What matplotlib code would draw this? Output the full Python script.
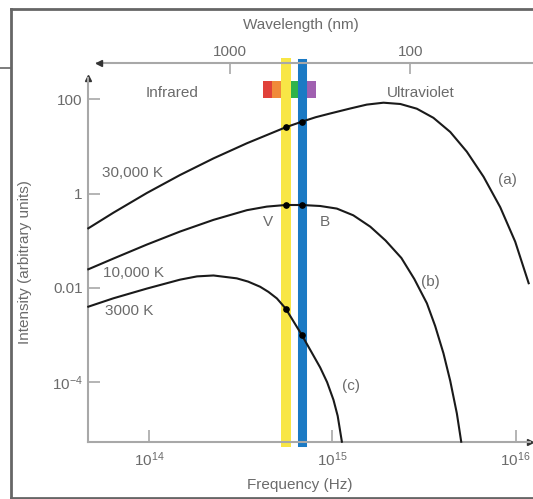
import matplotlib.pyplot as plt
from matplotlib.lines import Line2D
from matplotlib.ticker import NullLocator

plt.rcParams['font.family'] = ['Liberation Sans', 'DejaVu Sans']
plt.rcParams['mathtext.fontset'] = 'custom'
plt.rcParams['mathtext.rm'] = 'Liberation Sans'
plt.rcParams['mathtext.it'] = 'Liberation Sans:italic'

# blackbody curves: frequency (Hz) -> intensity (arbitrary)
freq_a = [4.64e13, 6.36e13, 9.68e13, 1.47e14, 2.24e14, 3.41e14, 5.55e14, 6.8e14,
          8.10e14, 9.71e14, 1.25e15, 1.54e15, 1.90e15, 2.35e15, 2.89e15, 3.56e15,
          4.40e15, 5.42e15, 6.69e15, 8.25e15, 9.96e15, 1.18e16]
int_a = [0.184, 0.394, 1.03, 2.48, 5.59, 11.7, 25.5, 33.5, 41.7, 50.0, 63.8,
         77.2, 84.7, 79.5, 63.2, 40.5, 20.3, 7.75, 2.28, 0.516, 0.0958, 0.0126]

freq_b = [4.64e13, 6.36e13, 9.68e13, 1.47e14, 2.24e14, 3.41e14, 4.38e14, 5.55e14,
          6.8e14, 8.57e14, 1.057e15, 1.30e15, 1.61e15, 1.95e15, 2.38e15, 2.80e15,
          3.28e15, 3.64e15, 4.04e15, 4.40e15, 4.78e15, 5.05e15]
int_b = [0.0249, 0.0420, 0.0831, 0.157, 0.278, 0.446, 0.531, 0.574, 0.574, 0.547,
         0.482, 0.347, 0.199, 0.1015, 0.0432, 0.0155, 0.00473, 0.00156, 0.000412,
         0.000107, 2.2e-5, 5.5e-6]

freq_c = [4.64e13, 6.36e13, 9.68e13, 1.47e14, 1.82e14, 2.24e14, 3.00e14, 3.46e14,
          4.03e14, 4.47e14, 4.97e14, 5.55e14, 6.8e14, 8.57e14, 9.35e14, 1.013e15,
          1.068e15, 1.126e15]
int_c = [0.00401, 0.00604, 0.00970, 0.0150, 0.0176, 0.0184, 0.0160, 0.01366,
         0.0106, 0.00826, 0.00601, 0.00367, 0.00101, 0.000206, 0.0001006, 4.24e-5,
         1.94e-5, 5.5e-6]

# V and B filters
v_freq = 5.55e14
b_freq = 6.8e14
dots_v = [25.5, 0.574, 0.00367]
dots_b = [33.5, 0.574, 0.00101]

# visible spectrum strip
spec_edges = [4.18e14, 4.68e14, 5.24e14, 5.94e14, 6.49e14, 7.28e14, 8.15e14]
spec_colors = ['#e0413a', '#f08a3a', '#f8e646', '#2fb34a', '#1b7ac4', '#a060b0']

x_ticks = [1e14, 1e15, 1e16]
x_labels = ['$10^{14}$', '$10^{15}$', '$10^{16}$']
y_ticks = [1e-4, 1e-2, 1, 100]
y_labels = ['$10^{-4}$', '0.01', '1', '100']
wl_ticks = [2.76e14, 2.66e15]
wl_labels = ['1000', '100']

gray = '#a8a8a8'
txt = '#6b6b6b'
fs = 11

fig = plt.figure(figsize=(5.33, 4.99), dpi=100)
ax = fig.add_axes([0.1657, 0.1148, 0.8287, 0.7289])
ax.set_xscale('log')
ax.set_yscale('log')
ax.set_xlim(4.64e13, 1.2e16)
ax.set_ylim(5.5e-6, 283)

# spectrum strip and filter bands
for i, c in enumerate(spec_colors):
    ax.axvspan(spec_edges[i], spec_edges[i + 1], ymin=0.945, ymax=0.9917,
               color=c, lw=0, zorder=1)
ax.axvline(v_freq, ymin=0, ymax=1.042, color='#f8e646', lw=7.2, clip_on=False, zorder=2)
ax.axvline(b_freq, ymin=0, ymax=1.042, color='#1b7ac4', lw=6.5, clip_on=False, zorder=2)

for f, I in [(freq_a, int_a), (freq_b, int_b), (freq_c, int_c)]:
    ax.plot(f, I, color='#1a1a1a', lw=1.5, clip_on=False, zorder=3,
            solid_joinstyle='round')

ax.plot([v_freq] * 3, dots_v, 'o', color='black', ms=3.8, zorder=4)
ax.plot([b_freq] * 3, dots_b, 'o', color='black', ms=3.8, zorder=4)

# labels
ax.text(1.33e14, 136, 'Infrared', color=txt, fontsize=fs, ha='center', va='center')
ax.text(3.05e15, 136, 'Ultraviolet', color=txt, fontsize=fs, ha='center', va='center')
ax.text(5.52e13, 2.74, '30,000 K', color=txt, fontsize=fs, va='center')
ax.text(5.58e13, 0.0211, '10,000 K', color=txt, fontsize=fs, va='center')
ax.text(5.73e13, 0.00325, '3000 K', color=txt, fontsize=fs, va='center')
ax.text(4.47e14, 0.254, 'V', color=txt, fontsize=fs, ha='center', va='center')
ax.text(9.12e14, 0.254, 'B', color=txt, fontsize=fs, ha='center', va='center')
ax.text(9.02e15, 1.95, '(a)', color=txt, fontsize=fs, ha='center', va='center')
ax.text(3.42e15, 0.0134, '(b)', color=txt, fontsize=fs, ha='center', va='center')
ax.text(1.26e15, 8.5e-5, '(c)', color=txt, fontsize=fs, ha='center', va='center')

# axes styling
for s in ['top', 'right']:
    ax.spines[s].set_visible(False)
for s in ['left', 'bottom']:
    ax.spines[s].set_color(gray)
    ax.spines[s].set_linewidth(1.5)
ax.set_xticks(x_ticks, x_labels)
ax.set_yticks(y_ticks, y_labels)
ax.xaxis.set_minor_locator(NullLocator())
ax.yaxis.set_minor_locator(NullLocator())
ax.tick_params(direction='in', length=8.5, width=1.2, color=gray,
               labelcolor=txt, labelsize=fs)
ax.tick_params(axis='x', pad=6)
ax.tick_params(axis='y', pad=4)
ax.plot([1], [0], '>', color='#333333', ms=5, transform=ax.transAxes, clip_on=False)
ax.plot([0], [1], '^', color='#333333', ms=5, transform=ax.transAxes, clip_on=False)

# wavelength axis on top
sec = ax.secondary_xaxis(1.042)
sec.set_xticks(wl_ticks, wl_labels)
sec.xaxis.set_minor_locator(NullLocator())
for s in sec.spines.values():
    s.set_visible(False)
sec.tick_params(direction='in', length=8, width=1.2, color=gray,
                labelcolor=txt, labelsize=fs, pad=3)
y_top = 1 - 62.7 / 499
fig.add_artist(Line2D([97 / 533, 1], [y_top, y_top], color=gray, lw=1.5))
fig.add_artist(Line2D([99 / 533], [y_top], marker='<', ms=5, color='#333333', lw=0))

fig.text(301 / 533, 1 - 25 / 499, 'Wavelength (nm)', color=txt, fontsize=fs,
         ha='center', va='center')
fig.text(300 / 533, 1 - 485 / 499, 'Frequency (Hz)', color=txt, fontsize=fs,
         ha='center', va='center')
fig.text(25 / 533, 1 - 262 / 499, 'Intensity (arbitrary units)', color=txt,
         fontsize=fs, rotation=90, ha='center', va='center')

# outer frame
fl, ft, fb = 11 / 533, 1 - 9 / 499, 1 - 497.7 / 499
fig.add_artist(Line2D([fl, fl], [ft, fb], color='#666666', lw=2))
fig.add_artist(Line2D([fl, 1], [ft, ft], color='#666666', lw=2))
fig.add_artist(Line2D([fl, 1], [fb, fb], color='#666666', lw=2))
fig.add_artist(Line2D([0, fl], [1 - 68 / 499] * 2, color='#666666', lw=1.2))

fig.savefig('out.png', dpi=100)
